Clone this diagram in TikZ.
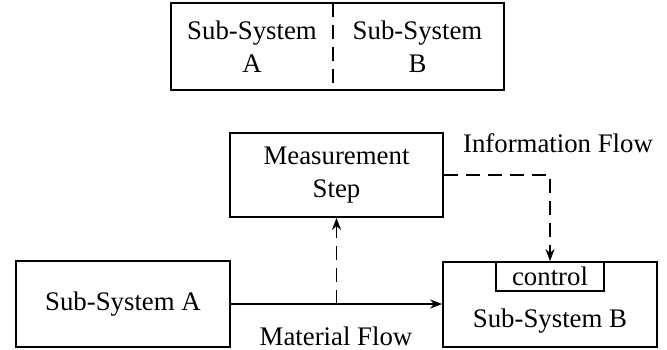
\documentclass[tikz,border=0pt]{standalone}
\usepackage{fontspec}
\setmainfont{Liberation Serif}
\usetikzlibrary{arrows.meta}

\tikzset{
  blk/.style={rectangle,draw,line width=.9pt,inner sep=0pt,align=center},
  txt/.style={inner sep=0pt,align=center},
  dsh/.style={dash pattern=on 7bp off 4bp}
}

\begin{document}
\begin{tikzpicture}[x=.5bp,y=-.5bp,>={Stealth[length=6bp,width=4.5bp]},line width=.9pt,
    font=\fontsize{13.4bp}{16.5bp}\selectfont]
  \useasboundingbox (0,0) rectangle (667,349);
  % sub-system split
  \node[txt,minimum width=80bp,minimum height=42.5bp] (sa) at (252,46.5) {Sub-System\\A};
  \node[txt,minimum width=85.5bp,minimum height=42.5bp] (sb) at (417.5,46.5) {Sub-System\\B};
  \draw (sa.north west) rectangle (sb.south east);
  \draw[dsh] (sa.north east) -- (sa.south east);
  % flows
  \node[blk,minimum width=106.5bp,minimum height=42bp] (meas) at (336.5,175) {Measurement\\Step};
  \node[blk,minimum width=107bp,minimum height=43bp] (sysa) at (123,304) {Sub-System A};
  \node[blk,minimum width=107bp,minimum height=42.5bp] (sysb) at (550,304.5) {};
  \node[txt] (sysbt) at (550,321) {Sub-System B};
  \node[blk,minimum width=54bp,minimum height=14.5bp,anchor=north] (ctrl) at (sysb.north) {control};
  \node[txt,anchor=base] (info) at (558,152) {Information Flow};
  \node[txt,anchor=base] (mat) at (336,345) {Material Flow};
  \coordinate (tap) at (meas.south |- sysa.east);
  \draw[->] (sysa.east) -- (sysa.east -| sysb.west);
  \draw[->,dsh] (tap) -- (meas.south);
  \draw[->,dsh] (meas.east) -- (meas.east -| ctrl.north) -- (ctrl.north);
\end{tikzpicture}
\end{document}
